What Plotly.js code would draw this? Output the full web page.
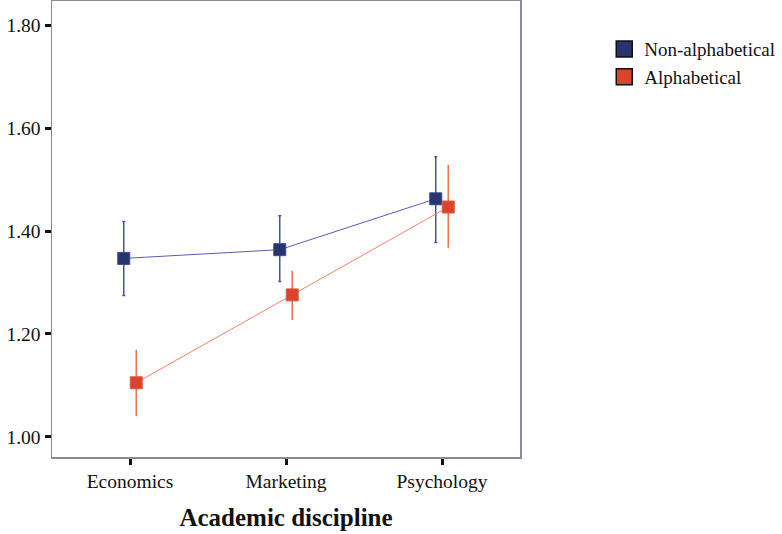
<!DOCTYPE html>
<html>
<head>
<meta charset="utf-8">
<script src="https://cdn.plot.ly/plotly-3.0.1.min.js"></script>
<style>html,body{margin:0;padding:0;background:#fff;}#chart{width:782px;height:534px;}</style>
</head>
<body>
<div id="chart"></div>
<script>
const categories = ['Economics', 'Marketing', 'Psychology'];
const nonAlpha = [1.347, 1.364, 1.463];
const nonAlphaLow = [1.275, 1.302, 1.378];
const nonAlphaHigh = [1.419, 1.430, 1.545];
const alpha = [1.105, 1.276, 1.447];
const alphaLow = [1.040, 1.227, 1.367];
const alphaHigh = [1.169, 1.323, 1.529];
const yTicks = [1.0, 1.2, 1.4, 1.6, 1.8];

const idx = categories.map((c, i) => i);
const dodge = 0.04;
const font = 'Liberation Serif, Times New Roman, serif';

const traces = [
  {
    x: idx.map(i => i - dodge), y: nonAlpha, mode: 'lines+markers', showlegend: false,
    line: {color: '#5a5db0', width: 1},
    marker: {symbol: 'square', size: 12, color: '#26356f', line: {color: '#3a4a8a', width: 1}},
    error_y: {type: 'data', symmetric: false,
      array: nonAlphaHigh.map((h, i) => h - nonAlpha[i]),
      arrayminus: nonAlpha.map((v, i) => v - nonAlphaLow[i]),
      color: '#4a529c', thickness: 1.5, width: 1.5}
  },
  {
    x: idx.map(i => i + dodge), y: alpha, mode: 'lines+markers', showlegend: false,
    line: {color: '#f2826c', width: 1},
    marker: {symbol: 'square', size: 12, color: '#d9452b', line: {color: '#e0583e', width: 1}},
    error_y: {type: 'data', symmetric: false,
      array: alphaHigh.map((h, i) => h - alpha[i]),
      arrayminus: alpha.map((v, i) => v - alphaLow[i]),
      color: '#f26b50', thickness: 1.5, width: 0}
  },
  {
    x: [null], y: [null], mode: 'markers', name: 'Non-alphabetical',
    marker: {symbol: 'square', size: 18, color: '#26356f', line: {color: '#111', width: 1.5}}
  },
  {
    x: [null], y: [null], mode: 'markers', name: 'Alphabetical',
    marker: {symbol: 'square', size: 18, color: '#d9452b', line: {color: '#111', width: 1.5}}
  }
];

const layout = {
  width: 782, height: 534,
  margin: {l: 52, r: 262, t: 1, b: 77},
  paper_bgcolor: '#fff', plot_bgcolor: '#fff',
  font: {family: font, color: '#111', size: 19.5},
  showlegend: true,
  legend: {x: 1.18, y: 0.936, xanchor: 'left', yanchor: 'top',
    font: {family: font, size: 19, color: '#111'}, itemwidth: 30, tracegroupgap: 0},
  xaxis: {
    range: [-0.5, 2.5], tickmode: 'array', tickvals: idx, ticktext: categories,
    showgrid: false, zeroline: false, showline: true, mirror: true,
    linecolor: '#8a8a99', linewidth: 1.5,
    ticks: 'outside', ticklen: 6, tickwidth: 3, tickcolor: '#111',
    tickfont: {family: font, size: 19.5, color: '#111'},
    title: {text: '<b>Academic discipline</b>', font: {family: font, size: 25, color: '#111'}, standoff: 17}
  },
  yaxis: {
    range: [0.9605, 1.848], tickmode: 'array', tickvals: yTicks, tickformat: '.2f',
    showgrid: false, zeroline: false, showline: true, mirror: true,
    linecolor: '#8a8a99', linewidth: 1.5,
    ticks: 'outside', ticklen: 6, tickwidth: 3, tickcolor: '#111',
    tickfont: {family: font, size: 19.5, color: '#111'}
  }
};

Plotly.newPlot('chart', traces, layout, {staticPlot: true, displayModeBar: false});
</script>
</body>
</html>
